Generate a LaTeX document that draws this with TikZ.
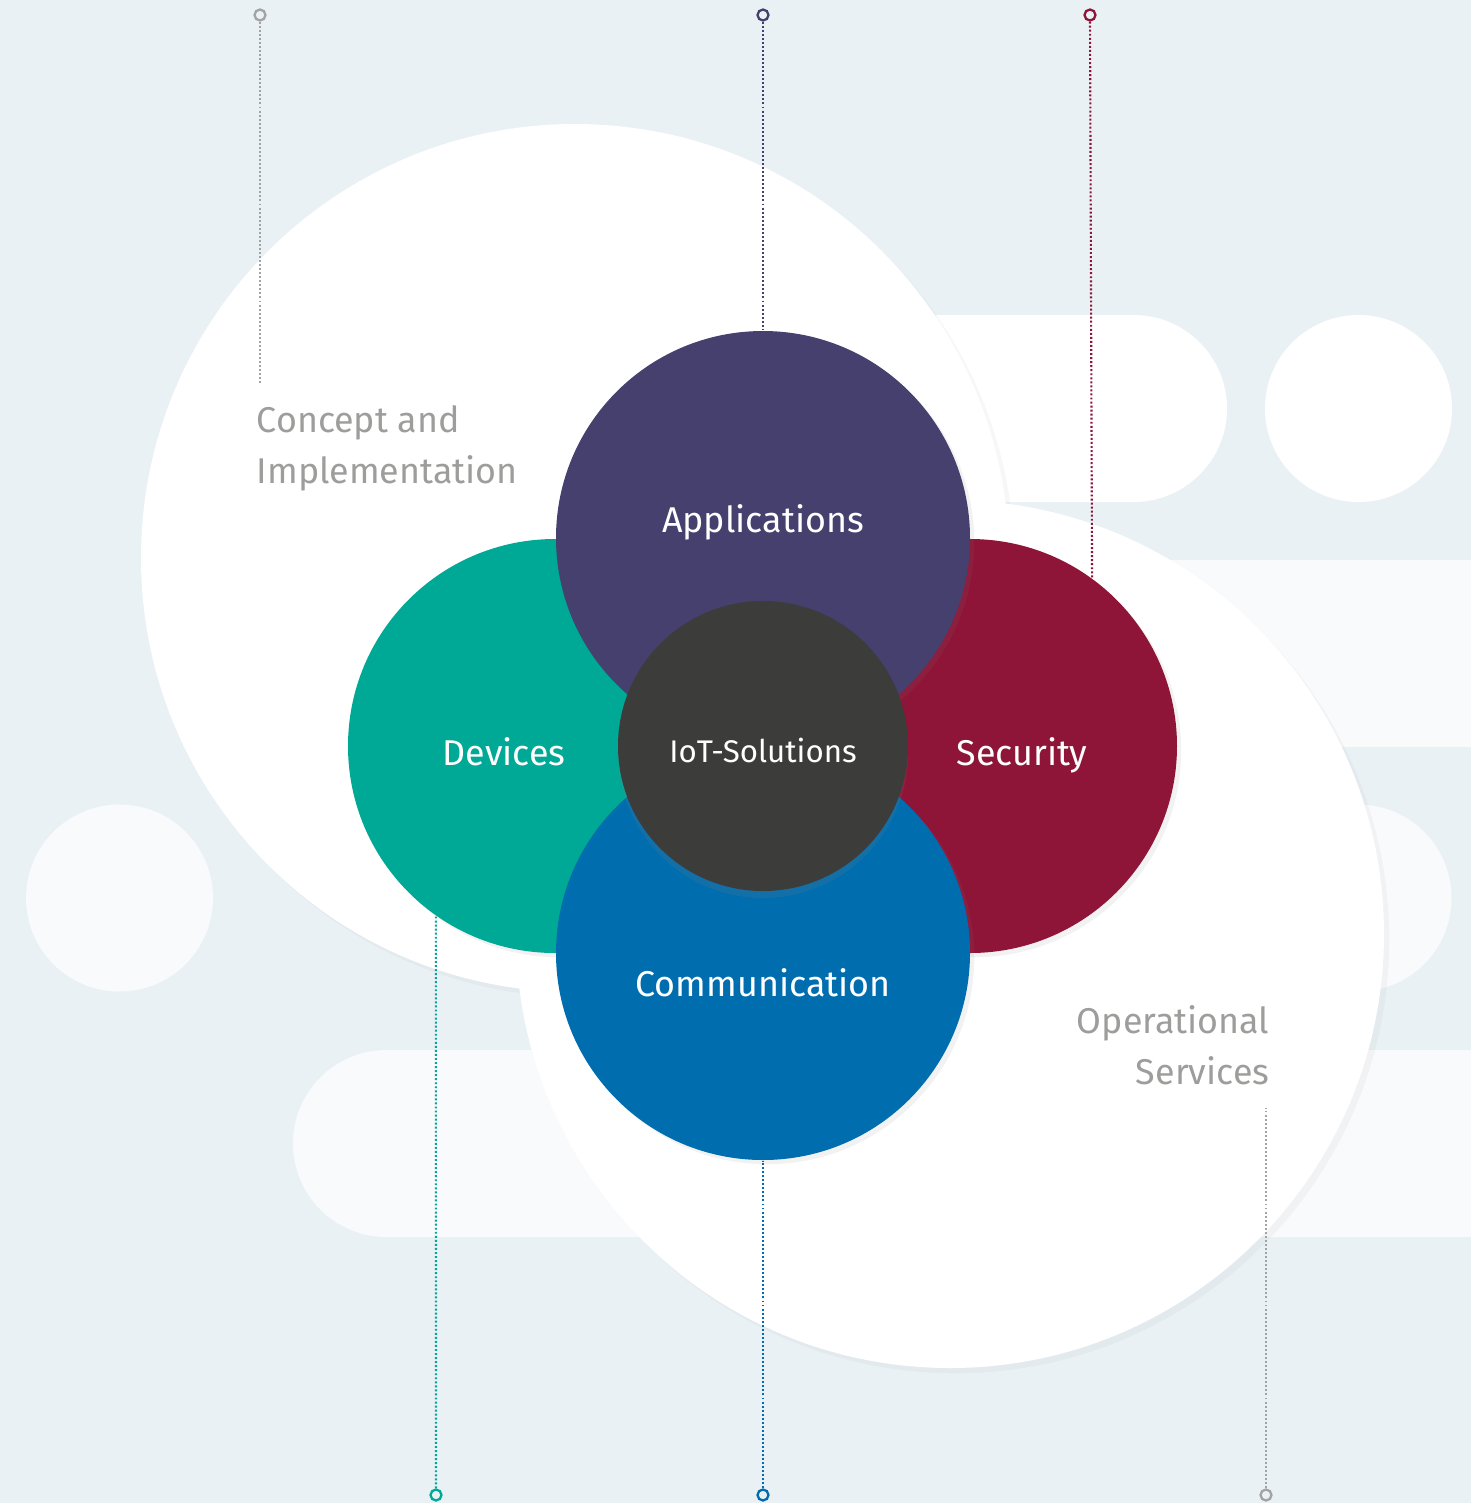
\documentclass[tikz,border=0pt]{standalone}
\usepackage{fontspec}
\setmainfont{Fira Sans}
\usetikzlibrary{shadows}

\definecolor{bgblue}{HTML}{EAF1F5}
\definecolor{paleshape}{HTML}{F8FAFC}
\definecolor{appcol}{HTML}{45406E}
\definecolor{devcol}{HTML}{00A996}
\definecolor{seccol}{HTML}{8E1537}
\definecolor{comcol}{HTML}{006DAE}
\definecolor{iotcol}{HTML}{3C3C3B}
\definecolor{labgray}{HTML}{9D9D9C}
\definecolor{linegray}{HTML}{A3A3A3}

\begin{document}
\begin{tikzpicture}[
  bigdisc/.style={circle, fill=white, minimum size=8.68cm, inner sep=0pt,
    drop shadow={opacity=.06, shadow xshift=1.5pt, shadow yshift=-1.5pt}},
  disc/.style={circle, minimum size=4.14cm, inner sep=0pt,
    drop shadow={opacity=.10, shadow xshift=1.2pt, shadow yshift=-1.2pt}},
  lab/.style={text=white, anchor=base, inner sep=0pt, font=\fontsize{10.2}{12}\selectfont},
  side/.style={text=labgray, inner sep=0pt, font=\fontsize{10.2}{14.5}\selectfont},
  dots/.style={line width=.6pt, dash pattern=on .55pt off .6pt},
  ring/.style={circle, draw, line width=.65pt, fill=bgblue, minimum size=.11cm, inner sep=0pt}
]
\useasboundingbox (0,0) rectangle (14.71,-15.03);
\fill[bgblue] (0,0) rectangle (14.71,-15.03);

% Background shapes
\fill[white] (8,-3.15) -- (11.335,-3.15) arc[start angle=90, end angle=-90, radius=.935] -- (8,-5.02) -- cycle;
\fill[white] (13.585,-4.085) circle[radius=.935];
\fill[paleshape] (11,-5.60) rectangle (14.71,-7.47);
\fill[paleshape] (13.58,-8.98) circle[radius=.935];
\fill[paleshape] (1.195,-8.98) circle[radius=.935];
\fill[paleshape] (14.71,-10.50) -- (3.865,-10.50) arc[start angle=90, end angle=270, radius=.935] -- (14.71,-12.37) -- cycle;

% Nodes
\node[bigdisc] (CI) at (5.75,-5.58) {};
\node[bigdisc] (OS) at (9.50,-9.34) {};

\node[disc, fill=devcol] (Dev) at (5.55,-7.46) {};
\node[disc, fill=seccol] (Sec) at (9.70,-7.46) {};
\node[disc, fill=appcol] (App) at (7.63,-5.38) {};
\node[disc, fill=comcol] (Com) at (7.63,-9.53) {};
\node[circle, fill=iotcol, minimum size=2.90cm, inner sep=0pt,
  drop shadow={opacity=.15, shadow xshift=0pt, shadow yshift=-2pt}] (IoT) at (7.63,-7.46) {};

% Labels
\node[lab] (AppL) at ([yshift=.6mm]App.center) {Applications};
\node[lab] (DevL) at ([xshift=-5.1mm, yshift=-1.9mm]Dev.center) {Devices};
\node[lab] (SecL) at ([xshift=5.2mm, yshift=-1.9mm]Sec.center) {Security};
\node[lab] (ComL) at ([yshift=-4.3mm]Com.center) {Communication};
\node[lab, font=\fontsize{8.9}{11}\selectfont] (IoTL) at ([yshift=-1.6mm]IoT.center) {IoT-Solutions};

\node[side, anchor=north west, align=left] (CIL) at (2.56,-4.05) {Concept and\\Implementation};
\node[side, anchor=north east, align=right] (OSL) at (12.70,-10.05) {Operational\\Services};

% Dotted leaders
\coordinate (CItop) at (2.60,-3.85);
\coordinate (OSbot) at (12.66,-11.08);

\node[ring, draw=linegray] (R1) at (2.60,-0.15) {};
\node[ring, draw=appcol] (R2) at (7.63,-0.15) {};
\node[ring, draw=seccol] (R3) at (10.90,-0.15) {};
\node[ring, draw=devcol] (R4) at (4.36,-14.95) {};
\node[ring, draw=comcol] (R5) at (7.63,-14.95) {};
\node[ring, draw=linegray] (R6) at (12.66,-14.95) {};

\draw[dots, linegray] (R1) -- (CItop);
\draw[dots, appcol] (R2) -- (App.north);
\draw[dots, seccol] (R3) -- (Sec.54.6);
\draw[dots, devcol] (R4) -- (Dev.-125.2);
\draw[dots, comcol] (R5) -- (Com.south);
\draw[dots, linegray] (R6) -- (OSbot);

\end{tikzpicture}
\end{document}
